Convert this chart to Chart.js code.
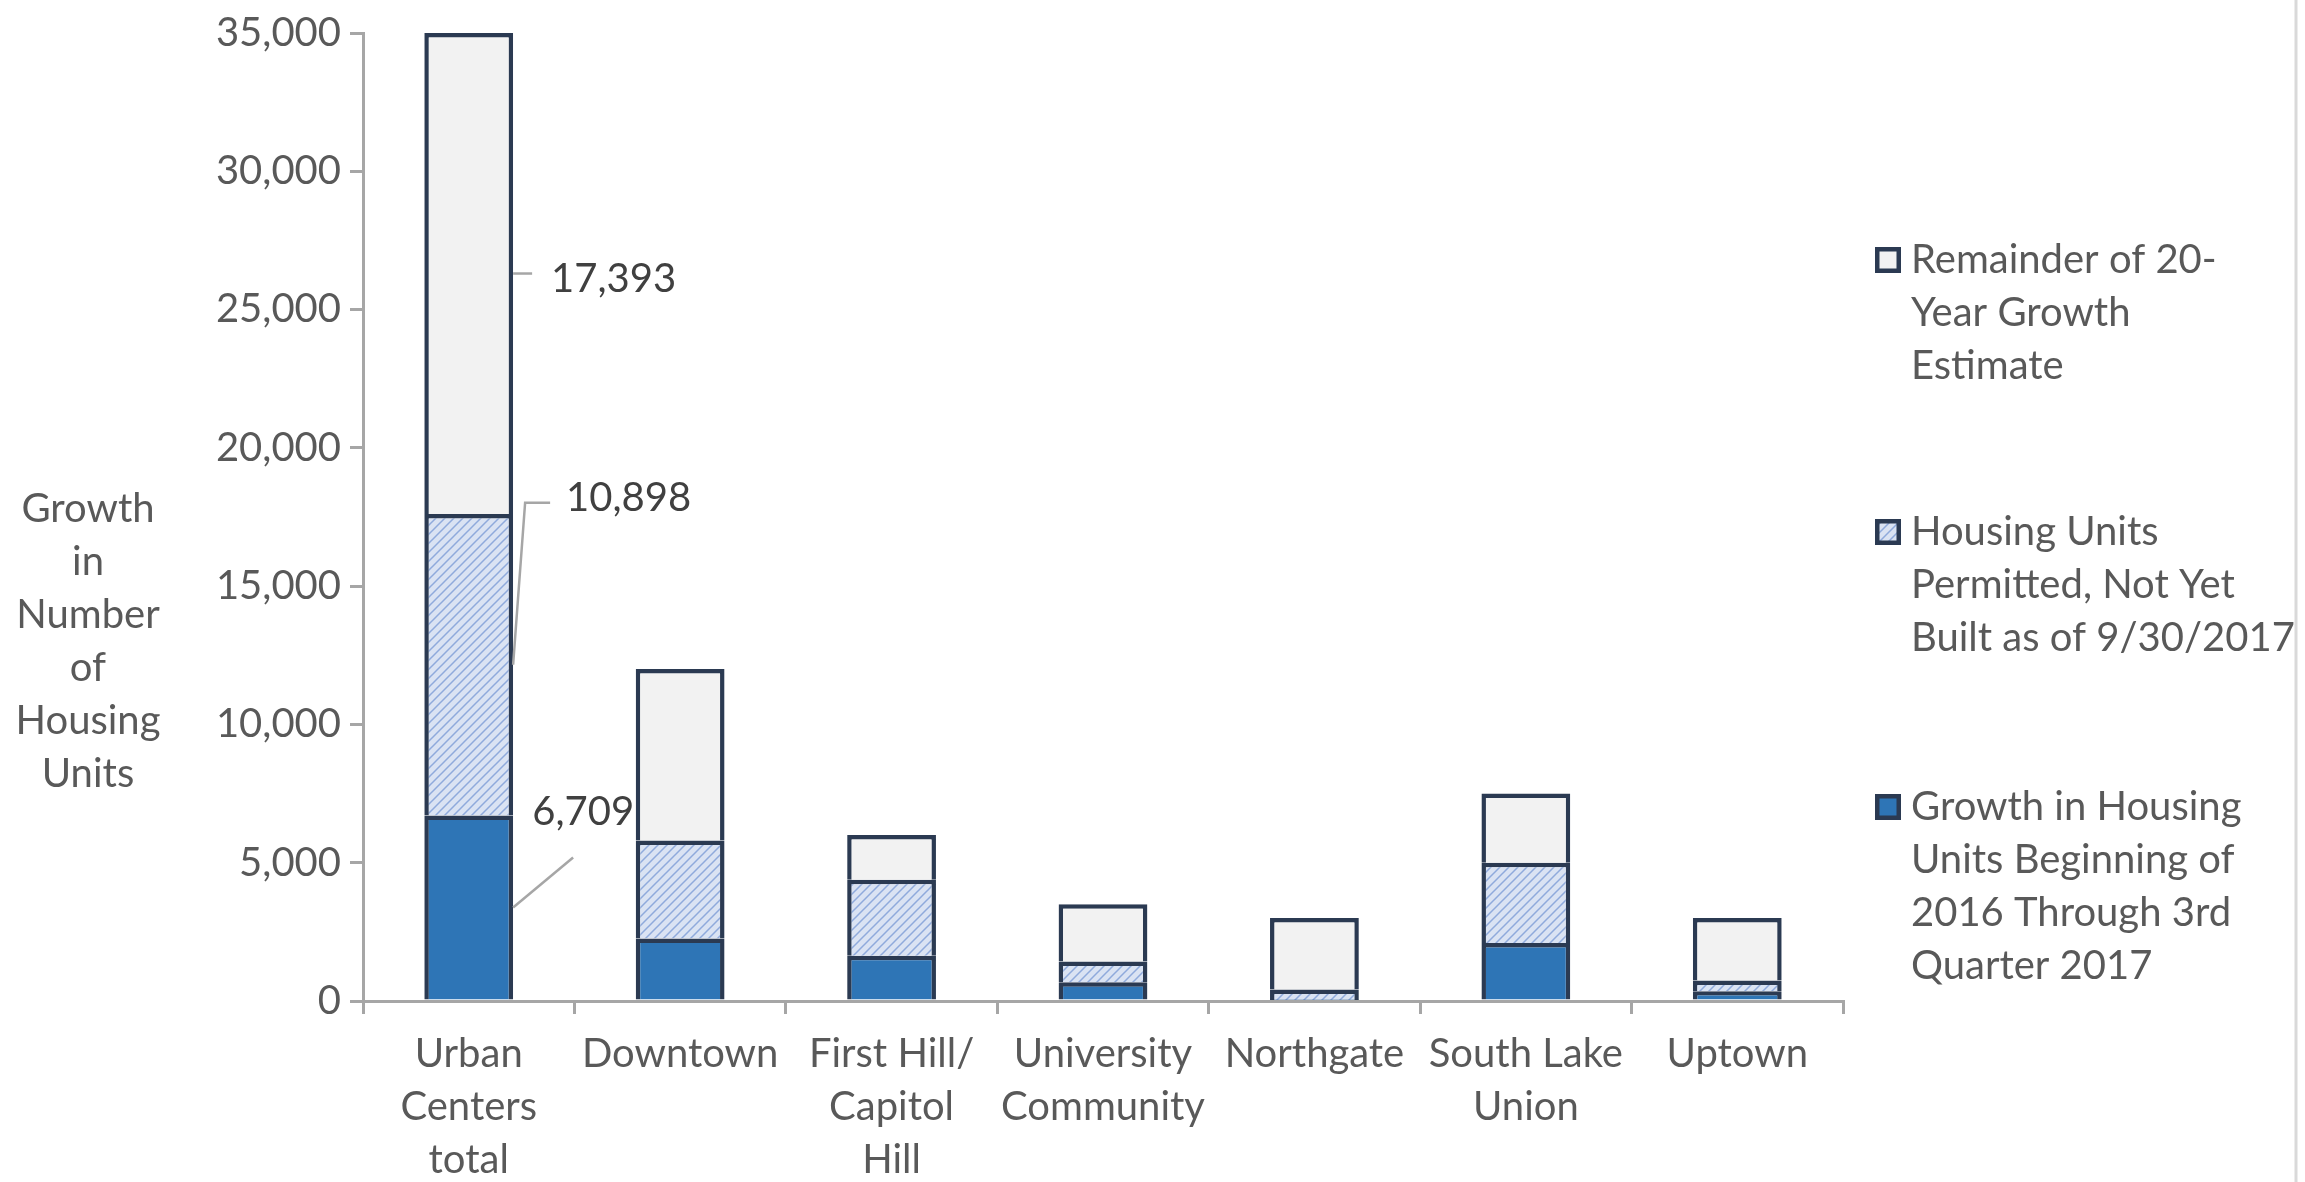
<!DOCTYPE html>
<html>
<head>
<meta charset="utf-8">
<script src="https://cdn.jsdelivr.net/npm/chart.js@4"></script>
<style>
  body { margin: 0; background: #fff; }
  #wrap { width: 2305px; height: 1182px; }
</style>
</head>
<body>
<div id="wrap"><canvas id="myChart" width="2305" height="1182"></canvas></div>
<script>
// datos del grafico
const categories = [
  ["Urban", "Centers", "total"],
  ["Downtown"],
  ["First Hill/", "Capitol", "Hill"],
  ["University", "Community"],
  ["Northgate"],
  ["South Lake", "Union"],
  ["Uptown"]
];
const growthBuilt = [6709, 2260, 1640, 680, 40, 2100, 350];
const permittedNotBuilt = [10898, 3540, 2740, 750, 380, 2900, 390];
const remainderEstimate = [17393, 6200, 1620, 2070, 2580, 2500, 2260];

const yTicks = [0, 5000, 10000, 15000, 20000, 25000, 30000, 35000];
const yTitle = ["Growth", "in", "Number", "of", "Housing", "Units"];

const legendGrowth = ["Growth in Housing", "Units Beginning of", "2016 Through 3rd", "Quarter 2017"];
const legendPermitted = ["Housing Units", "Permitted, Not Yet", "Built as of 9/30/2017"];
const legendRemainder = ["Remainder of 20-", "Year Growth", "Estimate"];

// colores
const txtColor = "#595959";
const axisColor = "#A6A6A6";
const edgeColor = "#2B3A52";
const FONT = "Lato, 'Open Sans', sans-serif";

// patron rayado para las unidades permitidas
function makeHatch() {
  const c = document.createElement("canvas");
  c.width = 9; c.height = 9;
  const g = c.getContext("2d");
  g.fillStyle = "#DAE3F3";
  g.fillRect(0, 0, 9, 9);
  g.strokeStyle = "#8FAADC";
  g.lineWidth = 1.5;
  g.beginPath();
  g.moveTo(-1, 10); g.lineTo(10, -1);
  g.moveTo(-5.5, 5.5); g.lineTo(5.5, -5.5);
  g.moveTo(3.5, 14.5); g.lineTo(14.5, 3.5);
  g.stroke();
  return g.createPattern(c, "repeat");
}
const hatch = makeHatch();

// plugin: titulo del eje, leyenda y etiquetas de la primera barra
const extras = {
  id: "extras",
  afterDraw(chart) {
    const ctx = chart.ctx;
    ctx.save();
    ctx.font = "40px " + FONT;
    ctx.fillStyle = txtColor;
    ctx.textBaseline = "middle";

    // titulo eje Y (horizontal, varias lineas)
    ctx.textAlign = "center";
    yTitle.forEach((t, i) => ctx.fillText(t, 88, 509 + i * 53));

    // leyenda
    const items = [
      { lines: legendRemainder, fill: "#F2F2F2", y: 260 },
      { lines: legendPermitted, fill: hatch, y: 532 },
      { lines: legendGrowth, fill: "#2E75B6", y: 807 }
    ];
    items.forEach((it) => {
      ctx.fillStyle = it.fill;
      ctx.fillRect(1875, it.y - 13, 26, 26);
      ctx.strokeStyle = edgeColor;
      ctx.lineWidth = 4.5;
      ctx.strokeRect(1877.25, it.y - 10.75, 21.5, 21.5);
      ctx.fillStyle = txtColor;
      ctx.textAlign = "left";
      it.lines.forEach((l, i) => ctx.fillText(l, 1911, it.y + i * 53));
    });

    // etiquetas de datos con lineas guia (solo Urban Centers total)
    const segs = [0, 1, 2].map((d) => chart.getDatasetMeta(d).data[0]);
    const vals = [growthBuilt[0], permittedNotBuilt[0], remainderEstimate[0]];
    ctx.strokeStyle = axisColor;
    ctx.lineWidth = 2.5;
    ctx.fillStyle = "#404040";
    const fmt = (v) => v.toLocaleString("en-US");

    // remainder
    let e = segs[2], right = e.x + e.width / 2, mid = (e.y + e.base) / 2;
    ctx.beginPath(); ctx.moveTo(right, mid); ctx.lineTo(right + 19, mid); ctx.stroke();
    ctx.textAlign = "left";
    ctx.fillText(fmt(vals[2]), right + 38, mid + 6);

    // permitted
    e = segs[1]; mid = (e.y + e.base) / 2;
    ctx.beginPath(); ctx.moveTo(right, mid); ctx.lineTo(right + 12, mid - 162); ctx.lineTo(right + 37, mid - 162); ctx.stroke();
    ctx.fillText(fmt(vals[1]), right + 53, mid - 167);

    // growth
    e = segs[0]; mid = (e.y + e.base) / 2;
    ctx.beginPath(); ctx.moveTo(right, mid); ctx.lineTo(right + 60, mid - 50); ctx.stroke();
    ctx.textAlign = "right";
    ctx.fillText(fmt(vals[0]), right + 121, mid - 95);

    // borde derecho de la imagen
    ctx.strokeStyle = "#D9D9D9";
    ctx.lineWidth = 3;
    ctx.beginPath(); ctx.moveTo(2296, 0); ctx.lineTo(2296, 1182); ctx.stroke();
    ctx.restore();
  }
};

const barStyle = {
  borderColor: edgeColor,
  borderWidth: { top: 4.5, left: 4.5, right: 4.5, bottom: 0 },
  borderSkipped: false,
  barPercentage: 0.525,
  categoryPercentage: 0.8
};

const config = {
  type: "bar",
  data: {
    labels: categories,
    datasets: [
      Object.assign({ label: legendGrowth.join(" "), data: growthBuilt, backgroundColor: "#2E75B6" }, barStyle),
      Object.assign({ label: legendPermitted.join(" "), data: permittedNotBuilt, backgroundColor: hatch }, barStyle),
      Object.assign({ label: legendRemainder.join(" "), data: remainderEstimate, backgroundColor: "#F2F2F2" }, barStyle)
    ]
  },
  options: {
    responsive: false,
    animation: false,
    devicePixelRatio: 1,
    layout: { padding: { top: 26, right: 462, left: 0, bottom: 0 } },
    plugins: { legend: { display: false }, tooltip: { enabled: false } },
    scales: {
      x: {
        stacked: true,
        border: { color: axisColor, width: 3 },
        grid: { drawOnChartArea: false, color: axisColor, lineWidth: 3, tickLength: 13 },
        ticks: { color: txtColor, font: { family: FONT, size: 40, lineHeight: 1.325 }, padding: 14, maxRotation: 0, autoSkip: false },
        afterFit: (s) => { s.height = 181; }
      },
      y: {
        stacked: true,
        min: 0,
        max: 35000,
        afterBuildTicks: (s) => { s.ticks = yTicks.map((v) => ({ value: v })); },
        border: { color: axisColor, width: 3 },
        grid: { drawOnChartArea: false, color: axisColor, lineWidth: 3, tickLength: 13 },
        ticks: {
          color: txtColor,
          font: { family: FONT, size: 40 },
          padding: 9,
          callback: (v) => v.toLocaleString("en-US")
        },
        afterFit: (s) => { s.width = 363; }
      }
    }
  },
  plugins: [extras]
};

const myChart = document.getElementById("myChart");
new Chart(myChart, config);
</script>
</body>
</html>
